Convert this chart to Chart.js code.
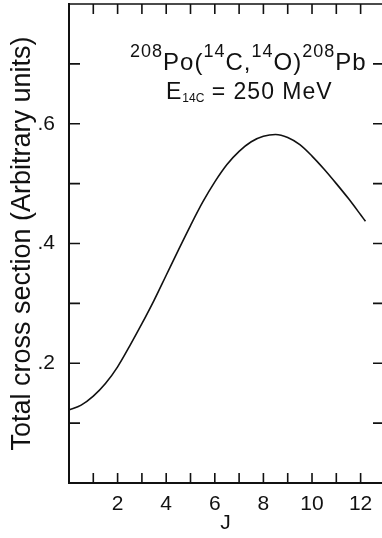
<!DOCTYPE html>
<html>
<head>
<meta charset="utf-8">
<script src="https://cdn.jsdelivr.net/npm/chart.js@4.4.1/dist/chart.umd.min.js"></script>
<style>
    html, body { margin: 0; padding: 0; background: #fff; overflow: hidden; }
    #wrap { position: relative; width: 382px; height: 538px; }
    #chart { position: absolute; left: 0; top: 0; }
    .note { position: absolute; white-space: nowrap; font-family: "Liberation Sans", Arial, sans-serif; color: #111; }
    .sup { position: relative; font-size: 18px; top: -13px; }
    .sub { position: relative; font-size: 12px; top: 3px; letter-spacing: 0; }
</style>
</head>
<body>
<div id="wrap">
    <canvas id="chart" width="382" height="538"></canvas>
    <div class="note" id="reaction" style="left:130px; top:50px; font-size:24px; line-height:24px; letter-spacing:1px;"><span class="sup">208</span>Po(<span class="sup">14</span>C,<span class="sup">14</span>O)<span class="sup">208</span>Pb</div>
    <div class="note" id="energy" style="left:166px; top:80px; font-size:23px; line-height:23px; letter-spacing:1px;">E<span class="sub">14C</span> = 250 MeV</div>
</div>
<script>
// cross section vs angular momentum J
const jValues = [0, 0.5, 1, 1.5, 2, 2.5, 3, 3.5, 4, 4.5, 5, 5.5, 6, 6.5, 7, 7.5, 8, 8.5, 9, 9.5, 10, 10.5, 11, 11.5, 12, 12.2];
const sigma = [0.122, 0.130, 0.145, 0.166, 0.194, 0.229, 0.266, 0.305, 0.347, 0.389, 0.430, 0.469, 0.503, 0.532, 0.554, 0.570, 0.579, 0.582, 0.577, 0.565, 0.546, 0.524, 0.500, 0.475, 0.448, 0.437];
const xTickLabels = [2, 4, 6, 8, 10, 12];
const yTickLabels = [0.2, 0.4, 0.6];

// ticks drawn inward on all four sides, plus the top frame line
const inwardTicks = {
    id: "inwardTicks",
    afterDraw(chart) {
        const ctx = chart.ctx;
        const area = chart.chartArea;
        const xs = chart.scales.x;
        const ys = chart.scales.y;
        ctx.save();
        ctx.strokeStyle = "#111";
        ctx.lineWidth = 1.6;
        ctx.beginPath();
        ctx.moveTo(area.left, area.top);
        ctx.lineTo(area.right, area.top);
        for (let j = 1; j <= 12; j++) {
            let px = xs.getPixelForValue(j);
            ctx.moveTo(px, area.bottom);
            ctx.lineTo(px, area.bottom - 10);
            ctx.moveTo(px, area.top);
            ctx.lineTo(px, area.top + 10);
        }
        for (let k = 1; k <= 7; k++) {
            let py = ys.getPixelForValue(k / 10);
            ctx.moveTo(area.left, py);
            ctx.lineTo(area.left + 11, py);
            ctx.moveTo(area.right, py);
            ctx.lineTo(area.right - 9, py);
        }
        ctx.stroke();
        ctx.restore();
    }
};

const fontFamily = "'Liberation Sans', Arial, sans-serif";

new Chart(document.getElementById("chart"), {
    type: "line",
    data: {
        datasets: [{
            data: jValues.map((j, i) => ({ x: j, y: sigma[i] })),
            borderColor: "#111",
            borderWidth: 1.6,
            pointRadius: 0,
            cubicInterpolationMode: "monotone",
            fill: false
        }]
    },
    options: {
        responsive: false,
        animation: false,
        layout: { padding: { top: 4, right: 0, left: 0, bottom: 0 } },
        plugins: { legend: { display: false }, tooltip: { enabled: false } },
        scales: {
            x: {
                type: "linear",
                min: 0,
                max: 12.88,
                grid: { display: false },
                border: { display: true, color: "#111", width: 2 },
                ticks: {
                    stepSize: 1,
                    autoSkip: false,
                    includeBounds: false,
                    maxRotation: 0,
                    padding: 1,
                    color: "#111",
                    font: { family: fontFamily, size: 21 },
                    callback: v => xTickLabels.includes(v) ? String(v) : ""
                },
                title: {
                    display: true,
                    text: "J",
                    color: "#111",
                    font: { family: fontFamily, size: 21 },
                    padding: { top: 0, bottom: 2 }
                },
                afterFit: scale => {
                    scale.height = 55;
                    scale.paddingLeft = 0;
                    scale.paddingRight = 0;
                }
            },
            y: {
                min: 0,
                max: 0.8,
                grid: { display: false },
                border: { display: true, color: "#111", width: 2 },
                ticks: {
                    stepSize: 0.1,
                    autoSkip: false,
                    includeBounds: false,
                    padding: 6,
                    color: "#111",
                    font: { family: fontFamily, size: 21 },
                    callback: v => {
                        let r = Math.round(v * 10) / 10;
                        return yTickLabels.includes(r) ? "." + Math.round(r * 10) : "";
                    }
                },
                title: {
                    display: true,
                    text: "Total cross section (Arbitrary units)",
                    color: "#111",
                    font: { family: fontFamily, size: 27 },
                    padding: { top: 6, bottom: 0 }
                },
                afterFit: scale => {
                    scale.width = 69;
                    scale.paddingTop = 0;
                    scale.paddingBottom = 0;
                }
            }
        }
    },
    plugins: [inwardTicks]
});
</script>
</body>
</html>
